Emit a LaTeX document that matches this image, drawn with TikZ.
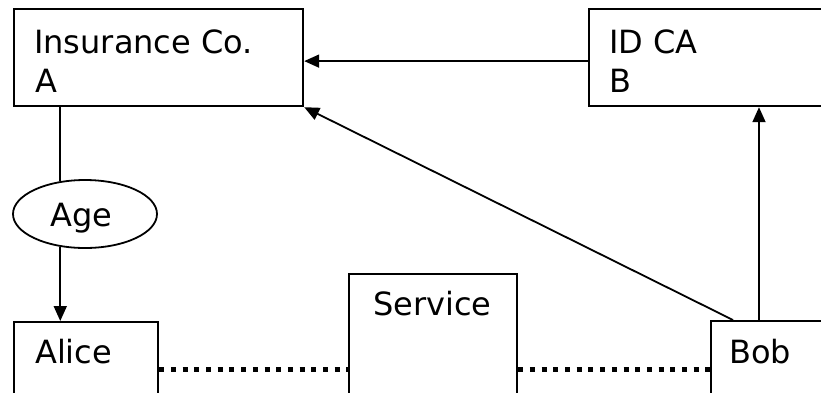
\documentclass[tikz,border=0pt]{standalone}
\usepackage{fontspec}
\setmainfont{DejaVu Sans}
\usetikzlibrary{shapes.geometric,arrows.meta,calc}
\begin{document}
\begin{tikzpicture}[x=1pt,y=-1pt,
  box/.style={draw,rectangle,line width=2.2pt,inner sep=0pt,anchor=north west},
  oval/.style={draw,ellipse,line width=1.8pt,inner sep=0pt,minimum width=144pt,minimum height=68pt},
  lbl/.style={anchor=base west,inner sep=0pt,font=\fontsize{32pt}{38pt}\selectfont},
  conn/.style={line width=1.8pt},
  arr/.style={conn,-{Triangle[length=15pt,width=13pt]}},
  dots/.style={line width=5pt,dash pattern=on 5pt off 6.7pt}]
\useasboundingbox (0,0) rectangle (821,392);
\clip (0,0) rectangle (821,392);
\fill[white] (0,0) rectangle (821,392);
% boxes
\node[box,minimum width=289pt,minimum height=97pt] (A) at (13,8) {};
\node[box,minimum width=250pt,minimum height=97pt] (B) at (588,8) {};
\node[box,minimum width=144pt,minimum height=90pt] (Alice) at (13,321) {};
\node[box,minimum width=168pt,minimum height=140pt] (Service) at (348,273) {};
\node[box,minimum width=130pt,minimum height=90pt] (Bob) at (710,320) {};
\node[oval] (Age) at (85,214) {};
% labels
\node[lbl] (tA1) at (34,53) {Insurance Co.};
\node[lbl] (tA2) at (35,92) {A};
\node[lbl] (tB1) at (609,53) {ID CA};
\node[lbl] (tB2) at (609,92) {B};
\node[lbl] (tAge) at (50,226) {Age};
\node[lbl] (tAlice) at (35,363) {Alice};
\node[lbl] (tService) at (373,315) {Service};
\node[lbl] (tBob) at (729,363) {Bob};
% connectors
\coordinate (bA) at ($(B.west)+(0,3.5)$);
\draw[arr] (bA) -- (bA -| A.east);
\coordinate (bobD) at ($(Bob.north west)+(23,0)$);
\coordinate (bobV) at ($(Bob.north west)+(49,0)$);
\draw[arr] (bobD) -- (A.south east);
\draw[arr] (bobV) -- (bobV |- B.south);
\draw[conn] (Age.127) -- (Age.127 |- A.south);
\draw[arr] (Age.233) -- (Age.233 |- Alice.north);
\draw[dots] ($(Alice.north east)+(0,48)$) -- ($(Service.north west)+(0,96)$);
\draw[dots] ($(Service.north east)+(0,96)$) -- ($(Bob.north west)+(0,49)$);
\end{tikzpicture}
\end{document}
